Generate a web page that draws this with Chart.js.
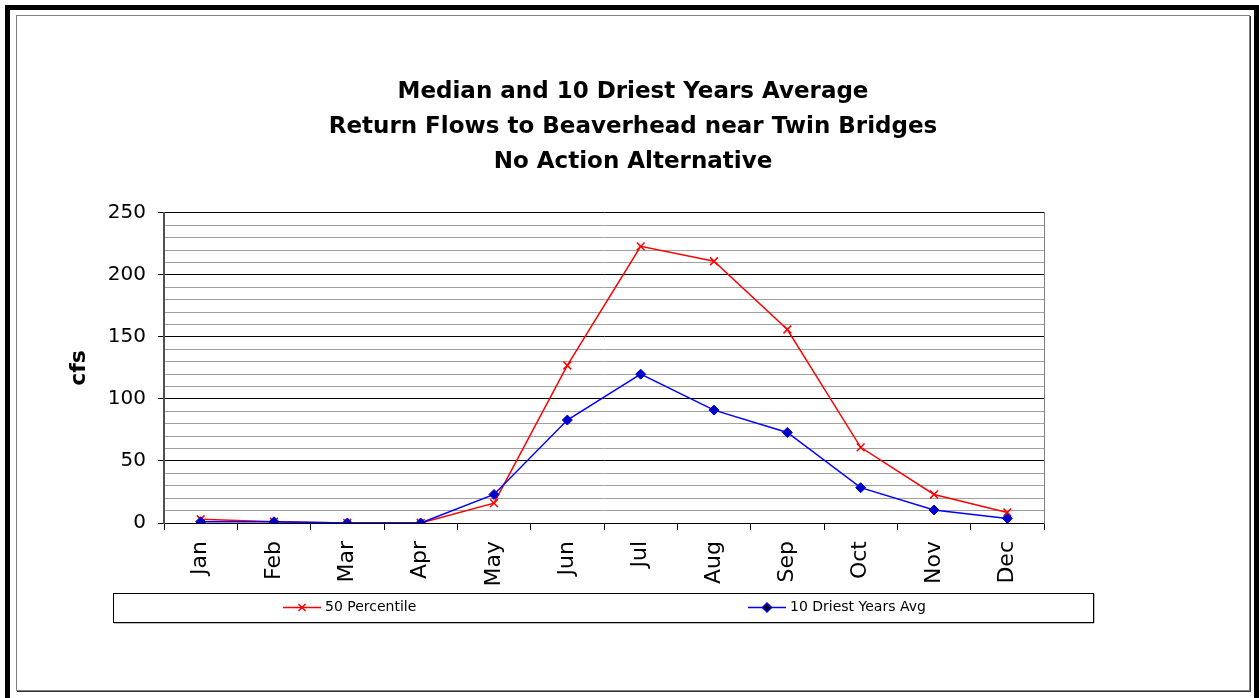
<!DOCTYPE html>
<html>
<head>
<meta charset="utf-8">
<script src="https://cdn.jsdelivr.net/npm/chart.js@4.4.1/dist/chart.umd.min.js"></script>
<style>
    html, body { margin: 0; padding: 0; background: #fff; }
    #wrap { position: absolute; left: 0; top: 0; width: 1259px; height: 698px; }
    .outer { position: absolute; left: 5px; top: 5px; width: 1244px; height: 700px;
             border: 5px solid #000; border-bottom: none; pointer-events: none; }
    .inner { position: absolute; left: 16px; top: 15px; width: 1232px; height: 674px;
             border: 1px solid #808080; box-shadow: 1px 1px 0 #303030; pointer-events: none; }
</style>
</head>
<body>
<div id="wrap"><canvas id="flow-chart"></canvas></div>
<div class="outer"></div>
<div class="inner"></div>
<script>
// Datos del gráfico
const months = ['Jan', 'Feb', 'Mar', 'Apr', 'May', 'Jun', 'Jul', 'Aug', 'Sep', 'Oct', 'Nov', 'Dec'];
const percentile50 = [3, 1, 0, 0, 16, 127, 223, 211, 156, 61, 23, 8.5];
const driest10 = [1, 1, 0, 0, 23, 83, 120, 91, 73, 28.5, 10.5, 3.7];
const yTickLabels = [0, 50, 100, 150, 200, 250];
const titleLines = [
    'Median and 10 Driest Years Average',
    'Return Flows to Beaverhead near Twin Bridges',
    'No Action Alternative'
];

const fontFamily = '"DejaVu Sans", "Liberation Sans", Arial, sans-serif';

// Leyenda dibujada a mano (recuadro ancho con elementos separados)
const boxLegend = {
    id: 'boxLegend',
    afterDraw(chart) {
        const ctx = chart.ctx;
        const left = 113, top = 593, width = 980, height = 29;
        ctx.save();
        ctx.fillStyle = '#808080';
        ctx.fillRect(left + 1, top + height, width, 1.5);
        ctx.fillRect(left + width, top + 1, 1.5, height);
        ctx.strokeStyle = '#000';
        ctx.lineWidth = 1;
        ctx.strokeRect(left + 0.5, top + 0.5, width, height);

        const itemX = [283, 748];
        const cy = top + 14.5;
        chart.data.datasets.forEach((ds, i) => {
            const x = itemX[i];
            ctx.strokeStyle = ds.borderColor;
            ctx.lineWidth = 1.5;
            ctx.beginPath();
            ctx.moveTo(x, cy);
            ctx.lineTo(x + 38, cy);
            ctx.stroke();
            Chart.helpers.drawPoint(ctx, {
                pointStyle: ds.pointStyle,
                radius: ds.pointRadius - 0.5,
                borderWidth: ds.pointBorderWidth
            }, x + 19, cy);
            ctx.fillStyle = '#000';
            ctx.font = '14px ' + fontFamily;
            ctx.textBaseline = 'middle';
            ctx.textAlign = 'left';
            ctx.fillText(ds.label, x + 42, cy);
        });
        ctx.restore();
    }
};

const ctx = document.getElementById('flow-chart').getContext('2d');
const flowChart = new Chart(ctx, {
    type: 'line',
    data: {
        labels: months,
        datasets: [{
            label: '50 Percentile',
            data: percentile50,
            borderColor: '#ff0000',
            backgroundColor: '#ff0000',
            borderWidth: 1.5,
            pointStyle: 'crossRot',
            pointRadius: 5.5,
            pointBorderWidth: 1.5,
            pointBorderColor: '#ff0000',
            tension: 0,
            order: 1
        }, {
            label: '10 Driest Years Avg',
            data: driest10,
            borderColor: '#0000ff',
            backgroundColor: '#0000cc',
            borderWidth: 1.5,
            pointStyle: 'rectRot',
            pointRadius: 5,
            pointBorderWidth: 1,
            pointBorderColor: '#0000cc',
            tension: 0,
            order: 0
        }]
    },
    options: {
        responsive: true,
        maintainAspectRatio: false,
        animation: false,
        layout: {
            padding: { top: 16, left: 16, right: 9, bottom: 0 }
        },
        scales: {
            x: {
                offset: true,
                grid: {
                    offset: true,
                    drawOnChartArea: false,
                    drawTicks: true,
                    tickLength: 7,
                    color: '#000'
                },
                border: { color: '#000', width: 1 },
                ticks: {
                    minRotation: 90,
                    maxRotation: 90,
                    padding: 11,
                    color: '#000',
                    font: { family: fontFamily, size: 22 }
                },
                afterFit(scale) { scale.height = 175; }
            },
            y: {
                min: 0,
                max: 250,
                grid: {
                    color: c => yTickLabels.includes(c.tick.value) ? '#000' : '#a0a0a0',
                    tickColor: c => yTickLabels.includes(c.tick.value) ? '#000' : 'rgba(0,0,0,0)',
                    tickLength: 6
                },
                border: { color: '#505050', width: 2 },
                ticks: {
                    stepSize: 10,
                    autoSkip: false,
                    padding: 12,
                    color: '#000',
                    font: { family: fontFamily, size: 20 },
                    callback: value => yTickLabels.includes(value) ? String(value) : ''
                },
                title: {
                    display: true,
                    text: 'cfs',
                    color: '#000',
                    font: { family: fontFamily, size: 22, weight: 'bold' },
                    padding: { top: 50, bottom: 0 }
                },
                afterFit(scale) { scale.width = 148; }
            },
            y2: {
                position: 'right',
                min: 0,
                max: 250,
                grid: { display: false },
                border: { display: true, color: '#808080', width: 1 },
                ticks: { display: false },
                afterFit(scale) { scale.width = 206; }
            }
        },
        plugins: {
            legend: { display: false },
            tooltip: { enabled: false },
            title: {
                display: true,
                text: titleLines,
                color: '#000',
                font: { family: fontFamily, size: 23, weight: 'bold', lineHeight: 1.52 },
                padding: { top: 58.5, bottom: 33.5 }
            }
        }
    },
    plugins: [boxLegend]
});
</script>
</body>
</html>
